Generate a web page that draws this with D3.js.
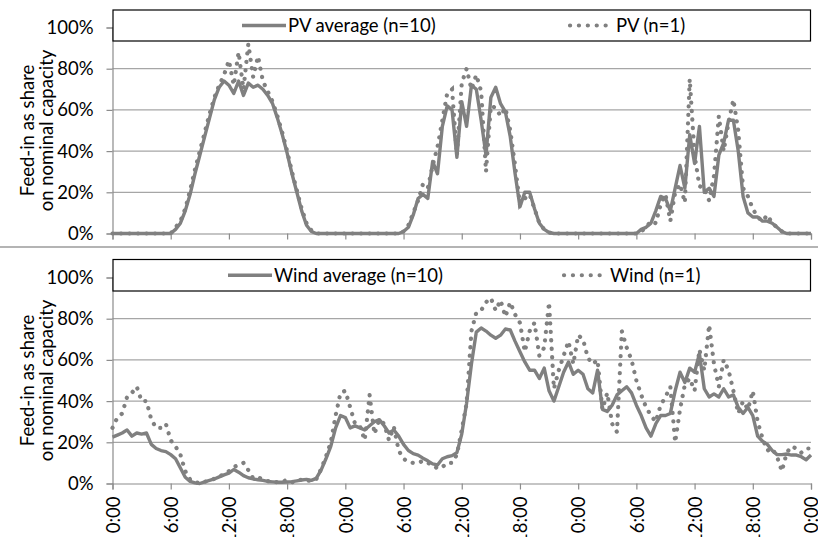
<!DOCTYPE html>
<html><head><meta charset="utf-8">
<script src="https://cdn.jsdelivr.net/npm/d3@7"></script>
<style>
body{margin:0;background:#fff}
svg{display:block}
text{font-family:Lato,"Open Sans",sans-serif;fill:#000}
</style>
</head><body>
<svg id="c" width="818" height="537"></svg>
<script>
// time axis: half-hour steps over three days (hours 0..72)
const hours = d3.range(0, 72.01, 0.5);

// PV average (n=10), % of nominal capacity
const pvAvg = [
 0,0,0,0,0,0,0,0,0,0,0,0,
 0,2,5,11,19,29,38,47,56,65,71,74,72,68,74,67,73,71,72,70,67,63,56,48,39,29,20,11,4,1,0,0,0,0,0,0,
 0,0,0,0,0,0,0,0,0,0,0,0,
 1,3,9,17,19,17,35,29,52,62,60,37,64,52,72,70,55,38,66,71,63,59,47,29,13,20,20,12,5,2,0.5,0,0,0,0,0,
 0,0,0,0,0,0,0,0,0,0,0,0,
 0,2,3,5,11,18,17,11,22,33,22,48,34,52,20,22,18,38,44,55,55,40,18,10,8,8,6,6,5,3,1,0,0,0,0,0,0
];
// PV single plant (n=1)
const pvOne = [
 0,0,0,0,0,0,0,0,0,0,0,0,
 0,3,6,12,21,31,40,49,58,66,72,77,84,72,88,70,92,76,86,74,69,64,57,49,40,30,21,12,5,1.5,0,0,0,0,0,0,
 0,0,0,0,0,0,0,0,0,0,0,0,
 1,4,10,16,24,22,33,42,55,68,70,38,73,80,70,77,69,30,62,61,57,61,50,33,14,17,19,12,5,2,0.5,0,0,0,0,0,
 0,0,0,0,0,0,0,0,0,0,0,0,
 0,1,3,6,5,14,19,6,20,24,15,75,38,23,22,16,28,57,40,54,65,50,22,18,12,8,6,9,5,3,1,0,0,0,0,0,0
];
// Wind average (n=10)
const windAvg = [
 22.5,23.5,24.5,26,23,24.5,24,24.5,19,17,16,15.5,
 14,12,7.5,3,1,0.3,0,0.8,1.5,2.2,3.2,4.2,
 5,6.8,5.5,3.8,2.8,2.2,1.8,1.5,1,0.8,0.6,0.6,
 0.7,0.9,1.3,1.7,2,1.5,2.5,6.5,12,18,27,33,
 32,27,28,27,26,28,30,31,28,24.5,26,23,
 19,16,14.5,13.8,12.3,11,9.5,9,12,13,13.5,15,
 24,39,58,73.5,75.5,74,72,70.5,72,75,74.5,69,
 64,59,55,55,51,56,45,40,47,54,59,53,
 55,53,46,44,55,36,35,38,43,45,47,44,
 38,33,27,23,29,33,33,34,45,54,49,56,
 54,63,46,42,43.5,42,46,42,43,37,34,37,
 33,23,20.5,19,16,14,14,14.3,13.8,13.8,13,11.5,
 13.8
];
// Wind single turbine (n=1)
const windOne = [
 27,32,34,42,44,47,40,40,31,27,27,29,
 21,18,14,6,2,0.5,0.3,0.8,1.5,2.3,3.5,4.5,
 6,8,9,10,6.5,2.5,3,2,1.2,0.8,0.6,0.8,
 1.8,0.6,1,2,1.5,1.2,2,7,13,20,33,44,
 45,37,29,28,21,43,24,31,29,21,27.5,16,
 12,10.5,10,10,11,10,9,7.3,8,10,10,14,
 26,39,74,83,84,88,90,84,89,81,88,82,
 78,64,74,78,62,66,88,46,55,62,69,58,
 72,70,61,58,60,36,44,29,25,74,66,60,
 50,43,37,33,30,38,42,47,20,36,48,51,
 45,65,55,77,58,47,60,55,45,34,40,36,
 45,30,22,16,17,13,6,15,18,17,15,17,
 17
];

const yTicks = [0,20,40,60,80,100];
const xTicks = [0,6,12,18,24,30,36,42,48,54,60,66,72];
const xTickLabels = ["0:00","6:00","12:00","18:00","0:00","6:00","12:00","18:00","0:00","6:00","12:00","18:00","0:00"];
const yTitle = ["Feed-in as share","on nominal capacity"];
const legendTop = ["PV average (n=10)","PV (n=1)"];
const legendBottom = ["Wind average (n=10)","Wind (n=1)"];

const svg = d3.select("#c");
const GREY = "#808080";
const FS = 18.5;
const x = d3.scaleLinear().domain([0,72]).range([112.5,811]);

const panels = [
  {y0:233.5, y1:27.5, avg:pvAvg, one:pvOne, legend:legendTop, box:[10,41], lx:[242,568], labels:false},
  {y0:483.5, y1:277.5, avg:windAvg, one:windOne, legend:legendBottom, box:[259.5,291], lx:[228,562], labels:true}
];

// separator between panels
svg.append("line").attr("x1",0).attr("x2",818).attr("y1",247).attr("y2",247)
  .attr("stroke","#b4b4b4").attr("stroke-width",2);

panels.forEach(p=>{
  const y = d3.scaleLinear().domain([0,100]).range([p.y0,p.y1]);
  const g = svg.append("g");
  // gridlines
  g.selectAll(".grid").data(yTicks.slice(1)).join("line")
    .attr("x1",x(0)).attr("x2",x(72)).attr("y1",d=>y(d)).attr("y2",d=>y(d))
    .attr("stroke","#a6a6a6").attr("stroke-width",1.2);
  // y axis
  const ya = d3.axisLeft(y).tickValues(yTicks).tickFormat(d=>d+"%").tickSize(6).tickPadding(13);
  const yg = g.append("g").attr("transform",`translate(${x(0)},0)`).call(ya);
  yg.select(".domain").attr("stroke","#8c8c8c").attr("stroke-width",1.2);
  yg.selectAll(".tick line").attr("stroke","#8c8c8c").attr("stroke-width",1.2);
  yg.selectAll(".tick text").attr("font-size",FS).attr("font-family","Lato").attr("fill","#000");
  // x axis
  const xa = d3.axisBottom(x).tickValues(xTicks).tickSize(6).tickFormat((d,i)=>xTickLabels[i]);
  const xg = g.append("g").attr("transform",`translate(0,${p.y0})`).call(xa);
  xg.select(".domain").attr("stroke","#8c8c8c").attr("stroke-width",1.2);
  xg.selectAll(".tick line").attr("stroke","#8c8c8c").attr("stroke-width",1.2);
  if(p.labels){
    xg.selectAll(".tick text").attr("font-size",FS).attr("font-family","Lato").attr("fill","#000")
      .attr("text-anchor","end").attr("transform","rotate(-90)")
      .attr("x",-13).attr("y",0).attr("dy","0.36em");
  } else {
    xg.selectAll(".tick text").remove();
  }
  // y title
  const cy = (p.y0+p.y1)/2;
  yTitle.forEach((t,i)=>{
    g.append("text").attr("transform",`translate(${34+i*19},${cy}) rotate(-90)`)
      .attr("text-anchor","middle").attr("font-size",FS).text(t);
  });
  // series
  const line = d3.line().x((d,i)=>x(hours[i])).y(d=>y(d));
  g.append("path").datum(p.avg).attr("d",line).attr("fill","none")
    .attr("stroke",GREY).attr("stroke-width",3.4).attr("stroke-linejoin","round");
  g.append("path").datum(p.one).attr("d",line).attr("fill","none")
    .attr("stroke",GREY).attr("stroke-width",4.2).attr("stroke-linecap","round")
    .attr("stroke-dasharray","0.1 8.4");
  // legend
  g.append("rect").attr("x",x(0)+0.5).attr("y",p.box[0]).attr("width",x(72)-x(0)-1).attr("height",p.box[1]-p.box[0])
    .attr("fill","#fff").attr("stroke","#000").attr("stroke-width",1.2);
  const ly = (p.box[0]+p.box[1])/2;
  g.append("line").attr("x1",p.lx[0]).attr("x2",p.lx[0]+44).attr("y1",ly).attr("y2",ly)
    .attr("stroke",GREY).attr("stroke-width",3.4);
  g.append("text").attr("x",p.lx[0]+46).attr("y",ly).attr("dy","0.36em").attr("font-size",FS).text(p.legend[0]);
  g.append("line").attr("x1",p.lx[1]+2).attr("x2",p.lx[1]+46).attr("y1",ly).attr("y2",ly)
    .attr("stroke",GREY).attr("stroke-width",4.2).attr("stroke-linecap","round").attr("stroke-dasharray","0.1 8.8");
  g.append("text").attr("x",p.lx[1]+48).attr("y",ly).attr("dy","0.36em").attr("font-size",FS).text(p.legend[1]);
});
</script>
</body></html>
